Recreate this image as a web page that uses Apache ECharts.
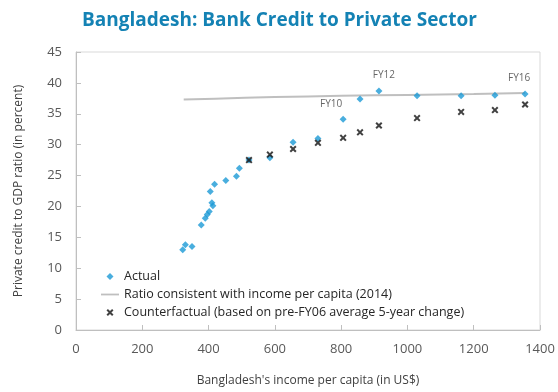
<!DOCTYPE html>
<html><head><meta charset="utf-8">
<script src="https://cdn.jsdelivr.net/npm/echarts@6/dist/echarts.min.js"></script>
<style>html,body{margin:0;padding:0;background:#fff}#c{width:558px;height:392px}</style>
</head><body><div id="c"></div>
<script>
var xTicks = [0,200,400,600,800,1000,1200,1400];
var yTicks = [0,5,10,15,20,25,30,35,40,45];
var actualX = [322,330,350,378,390,396,402,405,410,413,418,452,484,493,522,585,655,730,806,857,914,1029,1162,1264,1355];
var actualY = [13.0,13.8,13.5,17.0,18.1,18.7,19.2,22.4,20.6,20.1,23.6,24.2,24.9,26.2,27.5,27.9,30.4,31.0,34.1,37.4,38.7,37.9,37.9,38.0,38.2];
var fyNames = ['FY10','FY12','FY16'];
var fyIndex = [18,20,24];
var ratioX = [325,420,600,800,1000,1200,1355];
var ratioY = [37.3,37.45,37.7,37.9,38.05,38.2,38.35];
var cfX = [522,585,655,730,806,857,914,1029,1162,1264,1355];
var cfY = [27.5,28.4,29.3,30.3,31.1,32.0,33.1,34.3,35.3,35.6,36.5];

var FONT = '"Open Sans", "Noto Sans", sans-serif';
var labelOffsets = {FY10:[-12,-2], FY12:[5,-2], FY16:[-6,-2]};
var actualData = actualX.map(function(x,i){
  var d = {value:[x, actualY[i]]};
  var k = fyIndex.indexOf(i);
  if (k >= 0) {
    var n = fyNames[k];
    d.label = {show:true, formatter:n, position:'top', offset:labelOffsets[n],
      fontSize:10, color:'#404040', fontFamily:FONT};
  }
  return d;
});
var ratioData = ratioX.map(function(x,i){return [x, ratioY[i]];});
var cfData = cfX.map(function(x,i){return [x, cfY[i]];});
var xShape = 'path://M0,2L2,0L5,3L8,0L10,2L7,5L10,8L8,10L5,7L2,10L0,8L3,5Z';
var diamondPath = 'path://M5,0L10,5L5,10L0,5Z';
var linePath = 'path://M0,0L20,0L20,2L0,2Z';

var chart = echarts.init(document.getElementById('c'), null, {renderer:'canvas'});
chart.setOption({
  animation:false,
  title:{text:'Bangladesh: Bank Credit to Private Sector', left:77, top:6,
    textStyle:{fontFamily:FONT, fontSize:19, fontWeight:'bold', color:'#1482b4'}},
  grid:{left:76, right:18, top:52, bottom:62, show:true, borderColor:'#d9d9d9', borderWidth:1},
  legend:{orient:'vertical', left:96, top:265, itemGap:5, itemWidth:18, itemHeight:7,
    textStyle:{fontFamily:FONT, fontSize:12.5, color:'#262626'},
    data:[{name:'Actual', icon:diamondPath},
          {name:'Ratio consistent with income per capita (2014)', icon:linePath},
          {name:'Counterfactual (based on pre-FY06 average 5-year change)', icon:xShape}]},
  xAxis:{type:'value', min:0, max:1400, interval:200,
    name:"Bangladesh's income per capita (in US$)", nameLocation:'middle', nameGap:45,
    nameTextStyle:{fontFamily:FONT, fontSize:12, color:'#404040'},
    axisLine:{lineStyle:{color:'#bfbfbf'}}, axisTick:{inside:true, length:5, lineStyle:{color:'#bfbfbf'}},
    splitLine:{show:false},
    axisLabel:{fontFamily:FONT, fontSize:13, color:'#595959', margin:13,
      formatter:function(v){return xTicks.indexOf(v)>=0? String(v):'';}}},
  yAxis:{type:'value', min:0, max:45, interval:5,
    name:'Private credit to GDP ratio (in percent)', nameLocation:'middle', nameGap:51,
    nameTextStyle:{fontFamily:FONT, fontSize:12, color:'#404040'},
    axisLine:{show:true, lineStyle:{color:'#bfbfbf'}}, axisTick:{show:true, inside:true, length:5, lineStyle:{color:'#bfbfbf'}},
    splitLine:{show:false},
    axisLabel:{fontFamily:FONT, fontSize:13, color:'#595959', margin:14,
      formatter:function(v){return yTicks.indexOf(v)>=0? String(v):'';}}},
  series:[
    {name:'Ratio consistent with income per capita (2014)', type:'line', data:ratioData,
      showSymbol:false, symbol:'none', smooth:true, lineStyle:{color:'#bfbfbf', width:2},
      itemStyle:{color:'#bfbfbf'}, z:1},
    {name:'Actual', type:'scatter', data:actualData, symbol:'diamond', symbolSize:7,
      itemStyle:{color:'#1c9ad6'}, z:3},
    {name:'Counterfactual (based on pre-FY06 average 5-year change)', type:'scatter', data:cfData,
      symbol:xShape, symbolSize:7, itemStyle:{color:'#111111'}, z:4}
  ]
});
</script></body></html>
